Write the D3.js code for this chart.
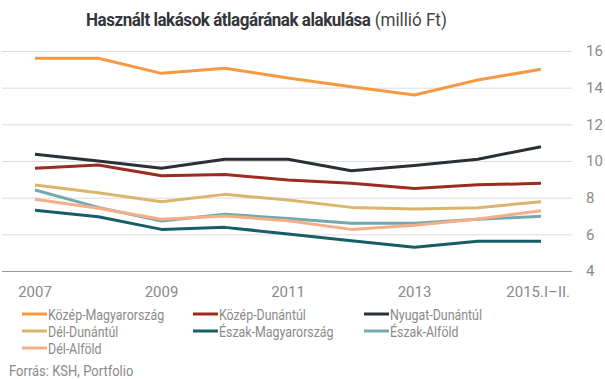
<!DOCTYPE html>
<html><head><meta charset="utf-8">
<script src="https://cdn.jsdelivr.net/npm/d3@7"></script>
<style>
body{margin:0;background:#fff;}
svg{display:block;font-family:Roboto,"Noto Sans",sans-serif;}
</style></head>
<body><svg id="c" width="605" height="379"></svg>
<script>
const years = ["2007","2008","2009","2010","2011","2012","2013","2014","2015.I–II."];
const tickYears = ["2007","2009","2011","2013","2015.I–II."];
const yTicks = [4,6,8,10,12,14,16];
const seriesNames = ["Közép-Magyarország","Közép-Dunántúl","Nyugat-Dunántúl","Dél-Dunántúl","Észak-Magyarország","Észak-Alföld","Dél-Alföld"];
const seriesColors = ["#f59a40","#9b2c1f","#2b3038","#d9b56e","#175e68","#73a9ad","#f6ae88"];
const kozepMagyarorszag = [15.6,15.6,14.78,15.06,14.53,14.05,13.6,14.42,15.0];
const kozepDunantul   = [9.6,9.78,9.2,9.27,8.96,8.78,8.5,8.7,8.78];
const nyugatDunantul  = [10.37,10.0,9.6,10.1,10.1,9.47,9.75,10.1,10.78];
const delDunantul     = [8.69,8.27,7.78,8.18,7.87,7.47,7.38,7.45,7.78];
const eszakMagyarorszag = [7.31,6.96,6.27,6.38,6.02,5.65,5.29,5.62,5.62];
const eszakAlfold     = [8.42,7.47,6.73,7.1,6.86,6.6,6.6,6.82,6.98];
const delAlfold       = [7.91,7.42,6.82,7.0,6.74,6.27,6.49,6.84,7.29];
const allValues = [kozepMagyarorszag,kozepDunantul,nyugatDunantul,delDunantul,eszakMagyarorszag,eszakAlfold,delAlfold];

const svg = d3.select("#c");
const x = d3.scalePoint().domain(years).range([35,541]);
const y = d3.scaleLinear().domain([4,16]).range([271,51]);

// gridlines
svg.append("g").selectAll("line").data(yTicks).join("line")
  .attr("x1",2).attr("x2",572)
  .attr("y1",d=>y(d)+0.5).attr("y2",d=>y(d)+0.5)
  .attr("stroke",d=>d===4?"#999":"#dcdcdc").attr("stroke-width",d=>d===4?1.2:1);

// y labels
svg.append("g").selectAll("text").data(yTicks).join("text")
  .attr("x",586).attr("y",d=>y(d)).attr("dy","0.36em")
  .attr("font-size",15).attr("fill","#8a8a8a").text(d=>d);

// x labels
svg.append("g").selectAll("text").data(tickYears).join("text")
  .attr("x",d=>x(d)).attr("y",292).attr("dy","0.36em")
  .attr("text-anchor",d=>d==="2015.I–II."?"end":"middle")
  .attr("dx",d=>d==="2015.I–II."?29:0)
  .attr("font-size",15).attr("fill","#8a8a8a").text(d=>d);

// lines
const line = d3.line().x((d,i)=>x(years[i])).y(d=>y(d));
svg.append("g").selectAll("path").data(allValues).join("path")
  .attr("d",line).attr("fill","none")
  .attr("stroke",(d,i)=>seriesColors[i]).attr("stroke-width",3)
  .attr("stroke-linejoin","round");

// title
const tg = svg.append("g");
const t = tg.append("text").attr("x",0).attr("y",0).attr("dy","0.36em")
  .attr("font-size",18).attr("fill","#33363b");
t.append("tspan").attr("font-weight","bold").attr("letter-spacing","-0.5").text("Használt lakások átlagárának alakulása");
t.append("tspan").attr("fill","#444").text(" (millió Ft)");
const tw = t.node().getComputedTextLength();
tg.attr("transform",`translate(86,20) scale(${361/tw},1)`);

// legend
const colX = [22,193,364];
const rowY = [314,331,348];
const lg = svg.append("g").selectAll("g").data(seriesNames).join("g")
  .attr("transform",(d,i)=>`translate(${colX[i%3]},${rowY[Math.floor(i/3)]})`);
lg.append("line").attr("x1",0).attr("x2",25).attr("y1",0).attr("y2",0)
  .attr("stroke",(d,i)=>seriesColors[i]).attr("stroke-width",3);
lg.append("text").attr("transform","translate(26,0) scale(0.8,1)").attr("dy","0.36em")
  .attr("font-size",15.5).attr("fill","#8a8a8a").text(d=>d);

svg.append("text").attr("transform","translate(9,370) scale(0.84,1)").attr("dy","0.36em")
  .attr("font-size",15.5).attr("fill","#8a8a8a").text("Forrás: KSH, Portfolio");
</script></body></html>
